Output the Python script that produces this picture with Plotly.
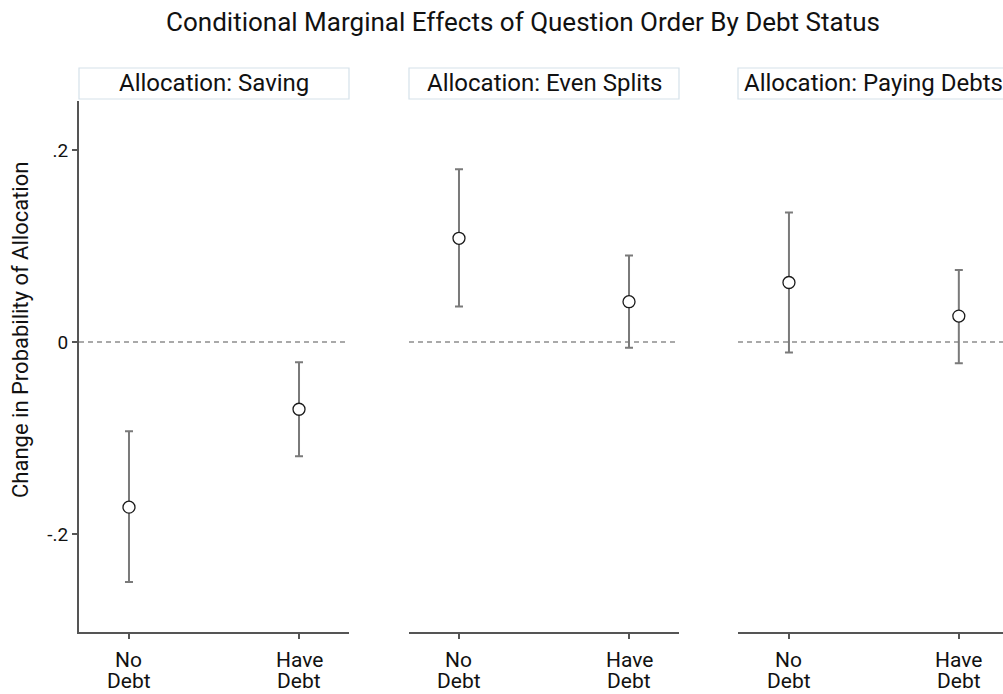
import plotly.graph_objects as go

# Marginal effects of question order, by allocation and debt status
panels = ["Allocation: Saving", "Allocation: Even Splits", "Allocation: Paying Debts"]
debt_top = ["No", "Have"]
debt_bottom = ["Debt", "Debt"]

effect = [[-0.172, -0.070], [0.108, 0.042], [0.062, 0.027]]
ci_low = [[-0.250, -0.119], [0.037, -0.006], [-0.011, -0.022]]
ci_high = [[-0.093, -0.021], [0.180, 0.090], [0.135, 0.075]]

y_ticks = [-0.2, 0, 0.2]
y_tick_text = ["-.2", "0", ".2"]

W, H = 1003, 694
L, R, T, B = 79, 0, 101, 62
pw = W - L - R
ph = H - T - B

# panel pixel spans (left, right) inside the plot area
spans = [(79, 349), (409, 679), (738, 1003)]
x_ranges = [[-0.294, 1.294], [-0.294, 1.294], [-0.3, 1.26]]

FONT = "Roboto, Arial, sans-serif"
TXT = "#111111"
AX = "#555555"
BAR = "#7a7a7a"


def py(pix):
    """pixel row -> paper y"""
    return (H - B - pix) / ph


fig = go.Figure()
layout = dict(
    width=W, height=H,
    margin=dict(l=L, r=R, t=T, b=B),
    paper_bgcolor="white", plot_bgcolor="white",
    showlegend=False,
    font=dict(family=FONT, color=TXT),
    title=dict(text="Conditional Marginal Effects of Question Order By Debt Status",
               x=523 / W, xanchor="center", xref="container",
               y=1 - 22 / H, yanchor="middle", yref="container",
               font=dict(size=26, family=FONT, color=TXT)),
)

shapes = []
annotations = []
for i, name in enumerate(panels):
    xa = "x" if i == 0 else f"x{i + 1}"
    ya = "y" if i == 0 else f"y{i + 1}"
    d0 = (spans[i][0] - L) / pw
    d1 = (spans[i][1] - L) / pw
    err_plus = [h - e for h, e in zip(ci_high[i], effect[i])]
    err_minus = [e - l for e, l in zip(effect[i], ci_low[i])]
    fig.add_trace(go.Scatter(
        x=[0, 1], y=effect[i], mode="markers",
        xaxis=xa, yaxis=ya,
        marker=dict(symbol="circle", size=12, color="white",
                    line=dict(color="#1a1a1a", width=1.3)),
        error_y=dict(type="data", symmetric=False, array=err_plus,
                     arrayminus=err_minus, color=BAR, thickness=2, width=4),
        cliponaxis=False,
    ))
    key = "xaxis" if i == 0 else f"xaxis{i + 1}"
    ykey = "yaxis" if i == 0 else f"yaxis{i + 1}"
    layout[key] = dict(
        domain=[d0, d1], range=x_ranges[i], anchor=ya,
        tickvals=[0, 1], showticklabels=False,
        showgrid=False, zeroline=False,
        showline=True, linecolor=AX, linewidth=2,
        ticks="outside", ticklen=5, tickwidth=2, tickcolor=AX,
        fixedrange=True,
    )
    ydict = dict(
        domain=[0, 1], range=[-0.302, 0.251], anchor=xa,
        showgrid=False, zeroline=False, fixedrange=True,
    )
    if i == 0:
        ydict.update(
            showline=True, linecolor=AX, linewidth=2,
            ticks="outside", ticklen=5, tickwidth=1.5, tickcolor=AX,
            tickvals=y_ticks, ticktext=y_tick_text,
            tickfont=dict(size=19, family=FONT, color=TXT),
        )
    else:
        ydict.update(showline=False, showticklabels=False, ticks="")
        ydict["matches"] = "y"
    layout[ykey] = ydict

    # category labels, two lines each
    for j in range(2):
        annotations.append(dict(text=debt_top[j], xref=xa, yref="paper",
                                x=j, y=py(660), xanchor="center", yanchor="middle",
                                showarrow=False,
                                font=dict(size=21, family=FONT, color=TXT)))
        annotations.append(dict(text=debt_bottom[j], xref=xa, yref="paper",
                                x=j, y=py(681), xanchor="center", yanchor="middle",
                                showarrow=False,
                                font=dict(size=21, family=FONT, color=TXT)))

    # zero reference line
    shapes.append(dict(type="line", xref=f"{xa} domain", yref=ya,
                       x0=0, x1=1, y0=0, y1=0,
                       line=dict(color=AX, width=1.2, dash="5px,4px"), layer="below"))
    # strip header box
    shapes.append(dict(type="rect", xref=f"{xa} domain", yref="paper",
                       x0=0, x1=1 if i < 2 else (W + 30 - spans[i][0]) / (spans[i][1] - spans[i][0]),
                       y0=py(99), y1=py(68),
                       line=dict(color="#d5e2ea", width=1.2), fillcolor="white"))
    cx = ((spans[i][0] + spans[i][0] + 270) / 2 - L) / pw
    annotations.append(dict(text=name, xref="paper", yref="paper",
                            x=cx, y=py(83),
                            xanchor="center", yanchor="middle", showarrow=False,
                            font=dict(size=24, family=FONT, color=TXT)))

annotations.append(dict(text="Change in Probability of Allocation",
                        xref="paper", yref="paper",
                        x=(20 - L) / pw, y=py(330),
                        xanchor="center", yanchor="middle", textangle=-90,
                        showarrow=False,
                        font=dict(size=22, family=FONT, color=TXT)))

layout["shapes"] = shapes
layout["annotations"] = annotations
fig.update_layout(**layout)
fig.write_html("out.html")
